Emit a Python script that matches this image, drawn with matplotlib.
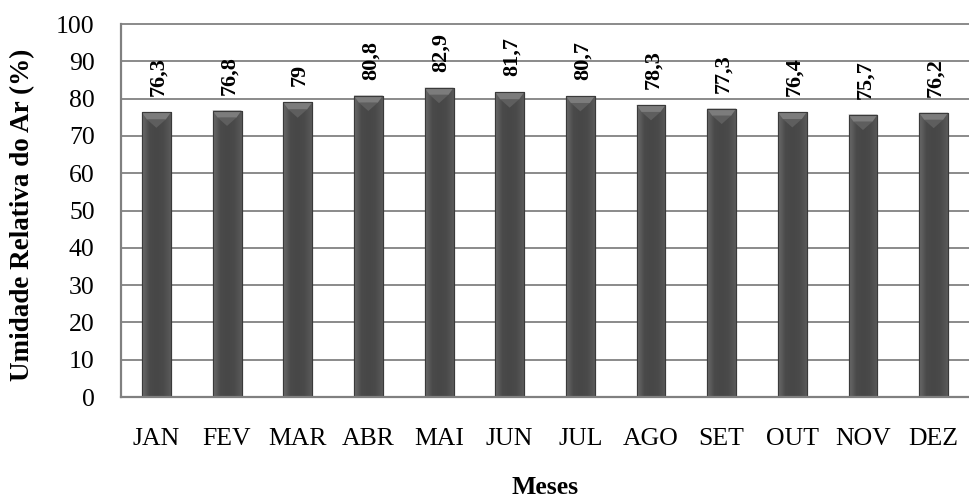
import numpy as np
import matplotlib
matplotlib.use("Agg")
import matplotlib.pyplot as plt
from matplotlib.patches import Polygon
from matplotlib.colors import LinearSegmentedColormap

meses = ["JAN", "FEV", "MAR", "ABR", "MAI", "JUN", "JUL", "AGO", "SET", "OUT", "NOV", "DEZ"]
umidade = [76.3, 76.8, 79.0, 80.8, 82.9, 81.7, 80.7, 78.3, 77.3, 76.4, 75.7, 76.2]
rotulos = ["76,3", "76,8", "79", "80,8", "82,9", "81,7", "80,7", "78,3", "77,3", "76,4", "75,7", "76,2"]
yticks = list(range(0, 101, 10))

plt.rcParams["font.family"] = ["Liberation Serif", "DejaVu Serif"]

fig = plt.figure(figsize=(9.69, 4.98), dpi=100)
ax = fig.add_axes([0.1249, 0.2028, 0.8751, 0.749])

x = np.arange(len(meses))
ax.set_xlim(-0.5, len(meses) - 0.5)
ax.set_ylim(0, 100)

for t in yticks[1:]:
    ax.axhline(t, color="#8a8a8a", lw=1.4, zorder=1, clip_on=False)

bars = ax.bar(x, umidade, width=0.41, color="#4c4c4c", edgecolor="#3c3c3c",
              linewidth=0.8, zorder=3)

# horizontal shading across each column for a rounded look
shade = LinearSegmentedColormap.from_list(
    "col", ["#6a6a6a", "#4a4a4a", "#474747", "#4a4a4a", "#5a5a5a"])
grad = np.linspace(0, 1, 64).reshape(1, -1)
fig.canvas.draw()
px_per_y = ax.transData.transform((0, 1))[1] - ax.transData.transform((0, 0))[1]
px_per_x = ax.transData.transform((1, 0))[0] - ax.transData.transform((0, 0))[0]
for b in bars:
    x0, w, h = b.get_x(), b.get_width(), b.get_height()
    im = ax.imshow(grad, cmap=shade, aspect="auto",
                   extent=(x0, x0 + w, 0, h), zorder=3.5, interpolation="bicubic")
    im.set_clip_path(b)
    # bevelled top cap
    dy = 7.0 / px_per_y
    dx = 5.0 / px_per_x
    cap = Polygon([(x0, h), (x0 + w, h), (x0 + w - dx, h - dy), (x0 + dx, h - dy)],
                  closed=True, facecolor="#7c7c7c", edgecolor="none", zorder=3.8)
    ax.add_patch(cap)
    tri = Polygon([(x0 + dx, h - dy), (x0 + w - dx, h - dy), (x0 + w / 2, h - 2.2 * dy)],
                  closed=True, facecolor="#5e5e5e", edgecolor="none", zorder=3.7)
    ax.add_patch(tri)
    ax.add_patch(plt.Rectangle((x0, 0), w, h, fill=False, edgecolor="#3a3a3a",
                               lw=0.8, zorder=4))

for xi, v, lab in zip(x, umidade, rotulos):
    ax.annotate(lab, (xi, v), xytext=(1.5, 11.5), textcoords="offset points",
                rotation=90, ha="center", va="bottom", fontsize=16,
                fontweight="bold", zorder=5)

ax.set_xticks(x)
ax.set_xticklabels(meses, fontsize=18.5)
ax.set_yticks(yticks)
ax.set_yticklabels([str(t) for t in yticks], fontsize=18.5)
ax.tick_params(axis="x", length=0, pad=22)
ax.tick_params(axis="y", length=0, pad=19)

for s in ["top", "right"]:
    ax.spines[s].set_visible(False)
for s in ["left", "bottom"]:
    ax.spines[s].set_color("#808080")
    ax.spines[s].set_linewidth(1.6)
    ax.spines[s].set_zorder(6)

fig.text(545 / 969, 11 / 498, "Meses", fontsize=18.5, fontweight="bold",
         ha="center", va="center")
fig.text(23 / 969, 1 - 215 / 498, "Umidade Relativa do Ar (%)", fontsize=19.5,
         fontweight="bold", rotation=90, ha="center", va="center")

fig.savefig("out.png", dpi=100)
